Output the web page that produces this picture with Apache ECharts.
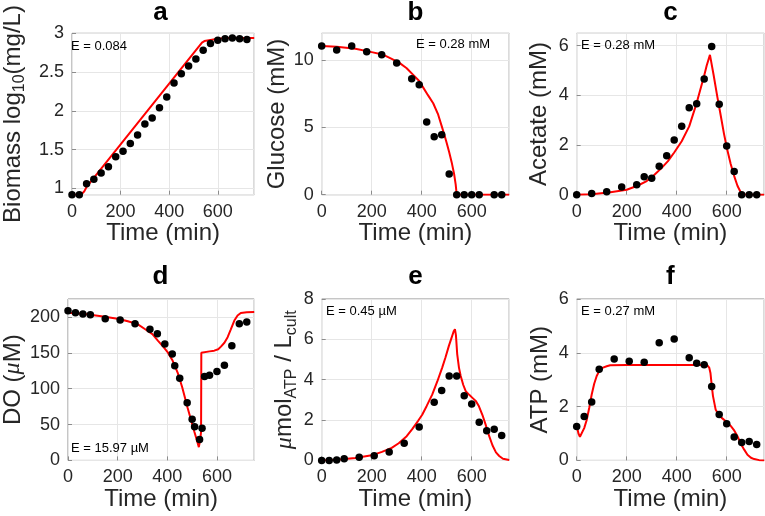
<!DOCTYPE html>
<html><head><meta charset="utf-8">
<script src="https://cdn.jsdelivr.net/npm/echarts@6/dist/echarts.min.js"></script>
<style>html,body{margin:0;padding:0;background:#fff}#c{width:765px;height:516px}</style>
</head><body><div id="c"></div>
<script>
// ---- panel a: biomass ----
const biomassT = [0,30,60,90,120,150,180,210,240,270,300,330,360,390,420,450,480,510,540,570,600,630,660,690,720];
const biomassObs = [0.92,0.92,1.06,1.12,1.20,1.28,1.41,1.48,1.58,1.69,1.83,1.91,2.04,2.18,2.36,2.48,2.58,2.67,2.78,2.87,2.91,2.93,2.94,2.93,2.92];
const biomassFitT = [0,30,40,50,60,75,200,400,535,545,570,600,640,750];
const biomassFit = [0.92,0.92,0.93,0.96,1.02,1.08,1.568,2.35,2.88,2.90,2.915,2.93,2.94,2.94];
// ---- panel b: glucose ----
const glucoseT = [0,60,120,180,240,300,360,390,420,450,480,510,540,570,600,630,690,720];
const glucoseObs = [11.05,10.75,11.05,10.63,10.4,9.8,8.63,8.18,5.4,4.3,4.45,1.53,0,0,0,0,0,0];
const glucoseFitT = [0,60,135,200,243,280,311,340,365,390,405,425,446,466,480,490,500,510,520,530,536,540,750];
const glucoseFit = [11.05,11.0,10.85,10.6,10.43,10.1,9.8,9.4,8.93,8.45,8.0,7.4,6.8,5.95,5.1,4.5,3.85,3.15,2.4,1.5,0.75,0,0];
// ---- panel c: acetate ----
const acetateT = [0,60,120,180,240,270,300,330,360,390,420,450,480,510,540,570,600,630,660,690,720];
const acetateObs = [0,0.05,0.12,0.31,0.4,0.72,0.66,1.15,1.57,2.2,2.76,3.5,3.66,4.66,5.97,3.64,1.96,0.93,0,0,0];
const acetateFitT = [0,60,135,200,243,280,311,340,365,390,420,450,480,510,520,533,548,562,575,589,602,616,630,643,655,665,680,750];
const acetateFit = [0,0.02,0.1,0.2,0.36,0.55,0.8,1.08,1.35,1.7,2.15,2.75,3.7,4.8,5.2,5.63,4.8,3.97,3.25,2.46,1.82,1.24,0.75,0.36,0.12,0.02,0,0];
// ---- panel d: dissolved oxygen ----
const doT = [0,30,60,90,150,210,270,330,360,390,420,430,450,480,500,510,530,540,550,570,600,630,660,690,720];
const doObs = [208.5,206,204,203,197.6,195.8,190.6,183,176.5,162.4,148.2,131.8,114.4,80.5,57.4,47,29.2,44.7,117,118.6,123.8,132.7,160,190.6,193];
const doFitT = [0,60,134,200,241,280,308,340,362,385,402,420,442,460,482,495,509,520,527,533,536,537,545,570,589,605,616,630,643,655,670,683,696,720,750];
const doFit = [206,204.5,201,197.5,194,190,183.5,176,167,158,150.6,140,122,102,73,57,40,27,18.5,30,40,150,151.5,152,153,155,158.6,164,171.8,182,195,202,205.6,206.5,207];
// ---- panel e: ATP pool per culture volume ----
const atpPoolT = [0,30,60,90,150,210,270,330,390,450,480,510,540,570,600,630,660,690,720];
const atpPoolObs = [0,0,0.02,0.08,0.15,0.23,0.42,0.85,1.66,2.88,3.46,4.18,4.18,3.2,2.8,1.89,1.47,1.54,1.24];
const atpPoolFitT = [0,60,134,200,241,280,308,340,362,385,402,420,442,462,482,495,509,520,528,533,537,542,549,556,566,576,590,603,616,629,643,656,670,683,697,710,725,750];
const atpPoolFit = [0,0.03,0.12,0.25,0.42,0.62,0.85,1.2,1.55,1.95,2.26,2.7,3.26,3.9,4.6,5.1,5.69,6.1,6.4,6.5,6.2,5.27,4.6,4.18,3.75,3.43,3.25,3.1,2.95,2.68,2.25,1.76,1.2,0.75,0.4,0.22,0.08,0.02];
// ---- panel f: intracellular ATP ----
const atpT = [0,30,60,90,150,210,270,330,390,450,480,510,540,570,600,630,660,690,720];
const atpObs = [1.26,1.63,2.17,3.39,3.77,3.69,3.65,4.37,4.51,3.82,3.61,3.56,2.75,1.71,1.36,0.87,0.67,0.70,0.59];
const atpFitT = [0,7,13,20,30,40,50,60,70,80,90,100,120,134,200,400,500,522,530,535,540,545,556,569,580,599,616,629,643,656,670,683,697,710,730,750];
const atpFit = [1.3,1.0,0.88,0.95,1.2,1.5,1.95,2.45,2.85,3.14,3.32,3.43,3.5,3.54,3.55,3.55,3.55,3.54,3.45,3.25,2.8,2.4,1.88,1.69,1.58,1.44,1.28,1.13,0.9,0.63,0.4,0.21,0.1,0.05,0.01,0];

const panelTitles = ['a','b','c','d','e','f'];
const errorLabels = ['E = 0.084','E = 0.28 mM','E = 0.28 mM','E = 15.97 \u00b5M','E = 0.45 \u00b5M','E = 0.27 mM'];
const yNames = [
  '{n|Biomass log}{s|10}{n|(mg/L)}',
  '{n|Glucose (mM)}',
  '{n|Acetate (mM)}',
  '{n|DO (}{i|\u03bc}{n|M)}',
  '{i|\u03bc}{n|mol}{s|ATP}{n| / L}{s|cult}',
  '{n|ATP (mM)}'
];
const xName = 'Time (min)';

const FONT = '"Liberation Sans", Arial, Helvetica, sans-serif';
const TXT = '#262626';
const COL_LEFT = [66.7, 321.7, 576.7];
const ROW_TOP = [33.3, 299];
const GW = 187.5, GH = 161.4;

const zip = (a, b) => a.map((v, i) => [v, b[i]]);

const panels = [
  {obsT: biomassT, obs: biomassObs, fitT: biomassFitT, fit: biomassFit, ymin: 0.92, ymax: 3, interval: null, hideMax: false, hideMin: true, gap: 44},
  {obsT: glucoseT, obs: glucoseObs, fitT: glucoseFitT, fit: glucoseFit, ymin: 0, ymax: 12, interval: 5, hideMax: true, hideMin: false, gap: 22},
  {obsT: acetateT, obs: acetateObs, fitT: acetateFitT, fit: acetateFit, ymin: 0, ymax: 6.5, interval: 2, hideMax: true, hideMin: false, gap: 22},
  {obsT: doT, obs: doObs, fitT: doFitT, fit: doFit, ymin: 0, ymax: 225, interval: 50, hideMax: true, hideMin: false, gap: 40},
  {obsT: atpPoolT, obs: atpPoolObs, fitT: atpPoolFitT, fit: atpPoolFit, ymin: 0, ymax: 8, interval: 2, hideMax: false, hideMin: false, gap: 21},
  {obsT: atpT, obs: atpObs, fitT: atpFitT, fit: atpFit, ymin: 0, ymax: 6, interval: 2, hideMax: false, hideMin: false, gap: 21}
];
const errorPos = [[71,46,'left'],[416,44.5,'left'],[581,45.7,'left'],[71,448,'left'],[326,311,'left'],[581,311,'left']];

const grid = [], xAxis = [], yAxis = [], series = [], graphic = [];
panels.forEach((p, i) => {
  const col = i % 3, row = Math.floor(i / 3);
  grid.push({left: COL_LEFT[col], top: ROW_TOP[row], width: GW, height: GH, show: true,
    borderColor: '#8c8c8c', borderWidth: 1, backgroundColor: '#fff'});
  xAxis.push({type: 'value', gridIndex: i, min: 0, max: 750, interval: 200,
    name: xName, nameLocation: 'middle', nameGap: 22,
    nameTextStyle: {fontSize: 24, fontFamily: FONT, color: TXT},
    axisLine: {show: false},
    axisTick: {show: true, inside: true, length: 4, lineStyle: {color: '#8c8c8c'}},
    axisLabel: {fontSize: 18, fontFamily: FONT, color: TXT, margin: 8, showMaxLabel: false},
    splitLine: {show: true, lineStyle: {color: '#e6e6e6', width: 1}}
  });
  const ya = {type: 'value', gridIndex: i, min: p.ymin, max: p.ymax,
    name: yNames[i], nameLocation: 'middle', nameGap: p.gap, nameRotate: 90,
    nameTextStyle: {fontFamily: FONT, color: TXT, rich: {
      n: {fontSize: 24, lineHeight: 30, fontFamily: FONT, color: TXT},
      i: {fontSize: 24, lineHeight: 30, fontFamily: '"Liberation Serif", serif', fontStyle: 'italic', color: TXT},
      s: {fontSize: 16, lineHeight: 16, verticalAlign: 'bottom', fontFamily: FONT, color: TXT}
    }},
    axisLine: {show: false},
    axisTick: {show: true, inside: true, length: 4, lineStyle: {color: '#8c8c8c'}},
    axisLabel: {fontSize: 18, fontFamily: FONT, color: TXT, margin: 8,
      showMaxLabel: !p.hideMax, showMinLabel: !p.hideMin},
    splitLine: {show: true, lineStyle: {color: '#e6e6e6', width: 1}}
  };
  if (p.interval) ya.interval = p.interval; else ya.splitNumber = 5;
  yAxis.push(ya);
  series.push({type: 'line', xAxisIndex: i, yAxisIndex: i, data: zip(p.fitT, p.fit),
    showSymbol: false, symbol: 'none', lineStyle: {color: '#ff0000', width: 2}, z: 2, animation: false});
  series.push({type: 'scatter', xAxisIndex: i, yAxisIndex: i, data: zip(p.obsT, p.obs),
    symbol: 'circle', symbolSize: 7.5, itemStyle: {color: '#000', opacity: 1}, z: 3, clip: false, animation: false});
  graphic.push({type: 'text', x: COL_LEFT[col] + GW / 2, y: row === 0 ? 13 : 277,
    style: {text: panelTitles[i], font: 'bold 26px ' + FONT, fill: '#000', align: 'center', verticalAlign: 'middle'}});
  const ep = errorPos[i];
  graphic.push({type: 'text', x: ep[0], y: ep[1], z: 10,
    style: {text: errorLabels[i], font: '13px ' + FONT, fill: '#000', align: ep[2], verticalAlign: 'middle'}});
});

const chart = echarts.init(document.getElementById('c'), null, {renderer: 'canvas'});
chart.setOption({animation: false, backgroundColor: '#fff', grid, xAxis, yAxis, series, graphic});
</script>
</body></html>
